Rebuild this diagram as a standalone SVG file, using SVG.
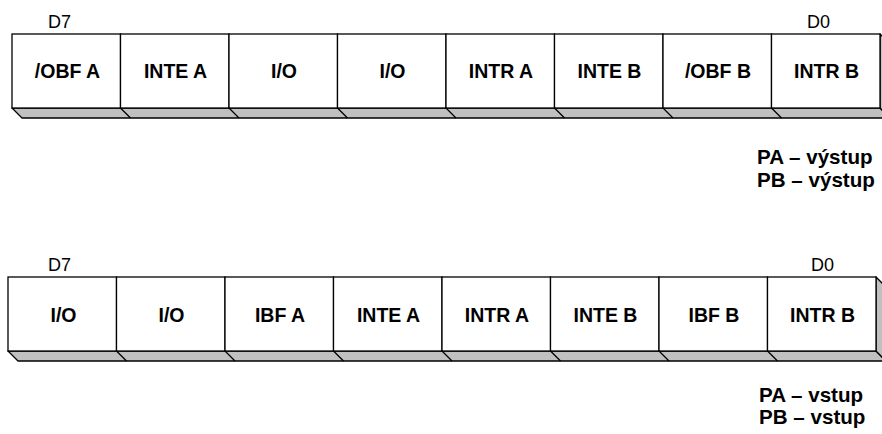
<svg xmlns="http://www.w3.org/2000/svg" width="882" height="434" viewBox="0 0 882 434">
<style>
.cell{fill:#fff;stroke:#000;stroke-width:1.3}
.shade{fill:#c0c0c0;stroke:#000;stroke-width:1.3;stroke-linejoin:round}
.edge{stroke:#000;stroke-width:1.3;fill:none}
.lbl{font-family:"Liberation Sans",Arial,sans-serif;font-size:19.5px;font-weight:bold;text-anchor:middle;fill:#000}
.bit{font-family:"Liberation Sans",Arial,sans-serif;font-size:18px;fill:#000}
.leg{font-family:"Liberation Sans",Arial,sans-serif;font-size:20.6px;font-weight:bold;fill:#000}
</style>
<rect width="882" height="434" fill="#fff"/>
<g id="register1">
<polygon class="shade" points="12,108 880,108 890,118 22,118"/>
<polygon class="shade" points="880,34 890,44 890,118 880,108"/>
<g id="r1c0"><rect class="cell" x="12" y="34" width="108.5" height="74"/><text class="lbl" x="67.5" y="78">/OBF A</text></g>
<g id="r1c1"><rect class="cell" x="120.5" y="34" width="108.5" height="74"/><text class="lbl" x="175.5" y="78">INTE A</text></g>
<g id="r1c2"><rect class="cell" x="229" y="34" width="108.5" height="74"/><text class="lbl" x="284" y="78">I/O</text></g>
<g id="r1c3"><rect class="cell" x="337.5" y="34" width="108.5" height="74"/><text class="lbl" x="392.5" y="78">I/O</text></g>
<g id="r1c4"><rect class="cell" x="446" y="34" width="108.5" height="74"/><text class="lbl" x="501" y="78">INTR A</text></g>
<g id="r1c5"><rect class="cell" x="554.5" y="34" width="108.5" height="74"/><text class="lbl" x="609.5" y="78">INTE B</text></g>
<g id="r1c6"><rect class="cell" x="663" y="34" width="108.5" height="74"/><text class="lbl" x="718" y="78">/OBF B</text></g>
<g id="r1c7"><rect class="cell" x="771.5" y="34" width="108.5" height="74"/><text class="lbl" x="826.5" y="78">INTR B</text></g>
<path class="edge" d="M120.5,108 l10,10 M229,108 l10,10 M337.5,108 l10,10 M446,108 l10,10 M554.5,108 l10,10 M663,108 l10,10 M771.5,108 l10,10"/>
<text class="bit" x="48" y="28">D7</text>
<text class="bit" x="807" y="28">D0</text>
</g>
<g id="legend1">
<text class="leg" x="757" y="164">PA – výstup</text>
<text class="leg" x="757" y="186.5">PB – výstup</text>
</g>
<g id="register2">
<polygon class="shade" points="8,351 876,351 886,361 18,361"/>
<polygon class="shade" points="876,277 886,287 886,361 876,351"/>
<g id="r2c0"><rect class="cell" x="8" y="277" width="108.5" height="74"/><text class="lbl" x="63.5" y="321.5">I/O</text></g>
<g id="r2c1"><rect class="cell" x="116.5" y="277" width="108.5" height="74"/><text class="lbl" x="171.5" y="321.5">I/O</text></g>
<g id="r2c2"><rect class="cell" x="225" y="277" width="108.5" height="74"/><text class="lbl" x="280" y="321.5">IBF A</text></g>
<g id="r2c3"><rect class="cell" x="333.5" y="277" width="108.5" height="74"/><text class="lbl" x="388.5" y="321.5">INTE A</text></g>
<g id="r2c4"><rect class="cell" x="442" y="277" width="108.5" height="74"/><text class="lbl" x="497" y="321.5">INTR A</text></g>
<g id="r2c5"><rect class="cell" x="550.5" y="277" width="108.5" height="74"/><text class="lbl" x="605.5" y="321.5">INTE B</text></g>
<g id="r2c6"><rect class="cell" x="659" y="277" width="108.5" height="74"/><text class="lbl" x="714" y="321.5">IBF B</text></g>
<g id="r2c7"><rect class="cell" x="767.5" y="277" width="108.5" height="74"/><text class="lbl" x="822.5" y="321.5">INTR B</text></g>
<path class="edge" d="M116.5,351 l10,10 M225,351 l10,10 M333.5,351 l10,10 M442,351 l10,10 M550.5,351 l10,10 M659,351 l10,10 M767.5,351 l10,10"/>
<text class="bit" x="48" y="271">D7</text>
<text class="bit" x="811" y="271">D0</text>
</g>
<g id="legend2">
<text class="leg" x="759" y="401.5">PA – vstup</text>
<text class="leg" x="759" y="424">PB – vstup</text>
</g>
<g id="connectors"></g>
</svg>
